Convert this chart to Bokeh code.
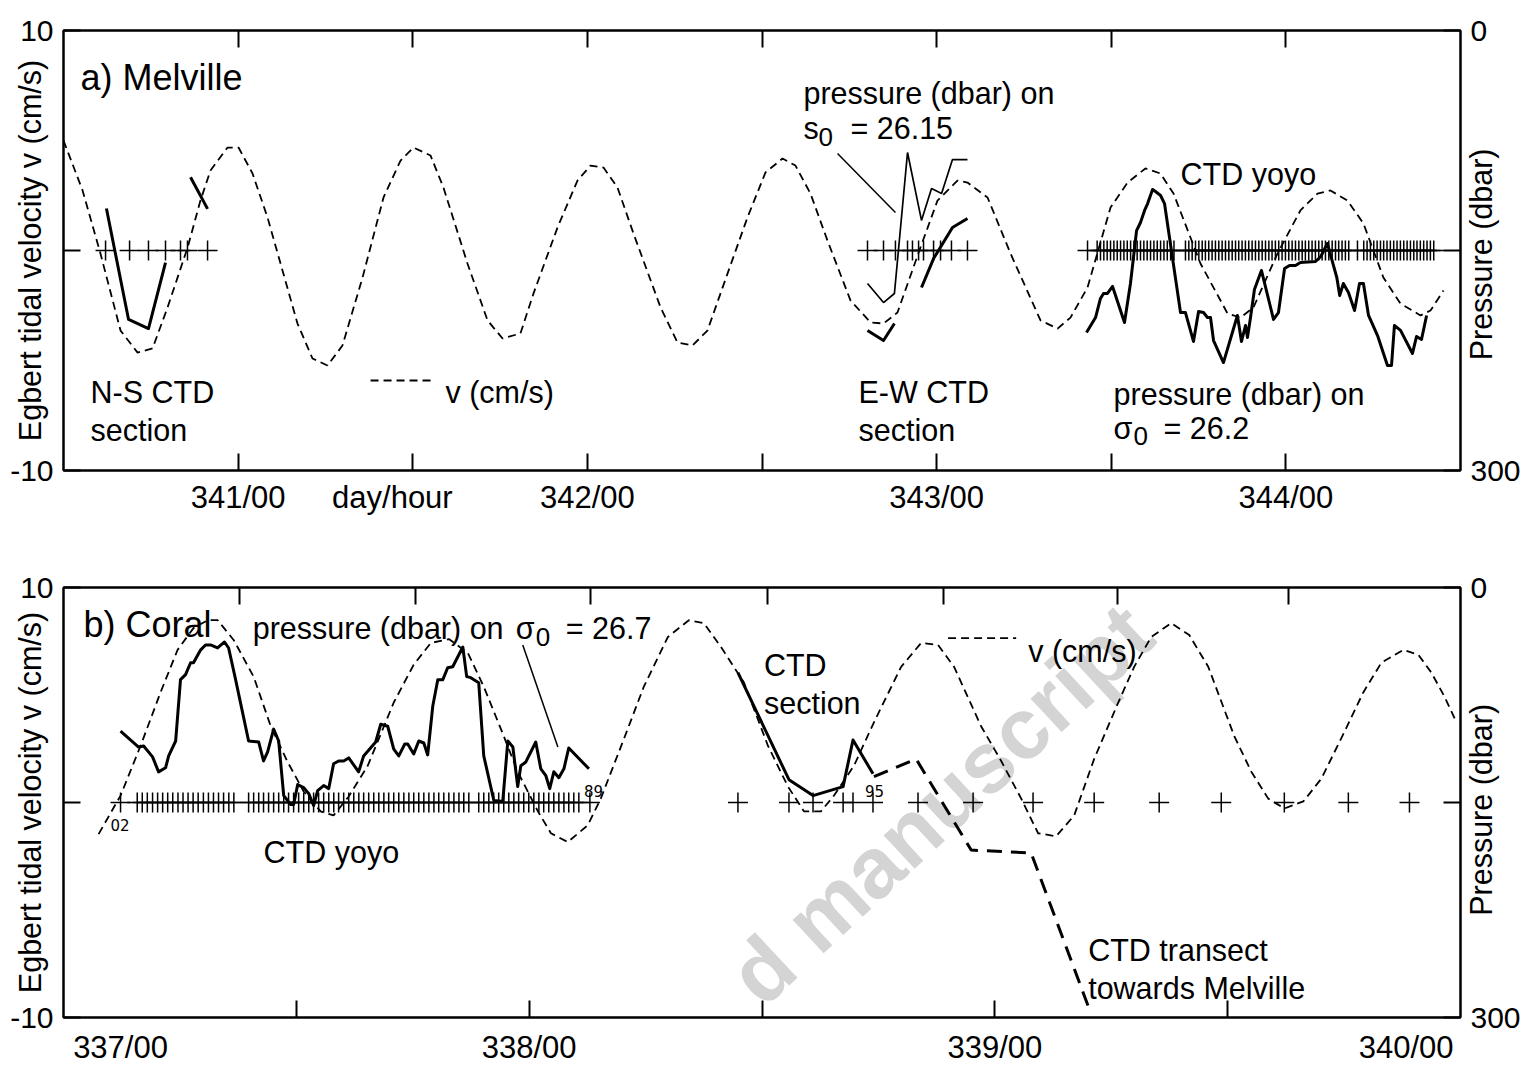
import math
from bokeh.plotting import figure
from bokeh.models import Range1d, LinearAxis, FixedTicker, Label, Arrow
from bokeh.layouts import column
from bokeh.embed import file_html
from bokeh.resources import INLINE

FONT = "Liberation Sans"

# ---------------- data: panel a) Melville (x = hours since day 340/00) ----------------
v_top_h = [12.00, 13.31, 14.54, 15.92, 17.09, 18.12, 19.15, 20.53, 21.41, 22.10,
           23.27, 24.03, 24.99, 26.02, 28.08, 29.11, 30.14, 31.17, 32.55, 33.99,
           35.16, 36.05, 37.22, 38.11, 39.76, 41.14, 42.17, 43.40, 44.30, 45.95,
           47.32, 48.21, 49.11, 50.07, 51.17, 53.03, 54.19, 55.22, 56.25, 57.63,
           59.00, 60.24, 61.41, 62.30, 63.33, 64.50, 66.08, 67.46, 68.35, 69.31,
           70.89, 72.06, 73.43, 74.12, 75.50, 77.08, 79.14, 80.31, 81.20, 82.37,
           83.95, 85.12, 86.35, 87.38, 88.28, 90.13, 91.99, 92.88, 93.77, 95.42,
           97.00, 98.17, 99.06, 100.23, 101.33, 102.70, 103.87, 105.25, 105.94, 106.83]
v_top = [5.00, 2.73, -0.14, -3.64, -4.64, -4.45, -2.59, 0.14, 2.27, 3.64,
         4.68, 4.68, 3.50, 1.50, -3.32, -4.91, -5.23, -4.32, -1.23, 2.41,
         4.09, 4.68, 4.32, 2.86, -0.59, -3.18, -4.00, -3.77, -1.95, 1.05,
         3.18, 3.86, 3.77, 2.86, 0.77, -2.59, -4.18, -4.32, -3.64, -1.05,
         1.50, 3.55, 4.18, 3.86, 2.59, 0.45, -2.27, -3.27, -3.32, -2.82,
         0.14, 2.27, 3.18, 3.09, 2.41, -0.14, -3.18, -3.55, -3.05, -1.68,
         1.95, 3.09, 3.73, 3.50, 2.59, -0.59, -2.86, -3.05, -2.59, -0.14,
         1.82, 2.59, 2.73, 2.27, 1.23, -1.23, -2.41, -2.95, -2.73, -1.82]

ns_h1 = [14.95, 16.47, 17.84, 19.01]
ns_p1 = [121.4, 197.0, 203.2, 158.2]
ns_h2 = [20.73, 21.90]
ns_p2 = [100.0, 121.6]

ew_thin_h = [67.25, 68.35, 69.10, 70.00, 70.96, 71.65, 72.34, 73.09, 74.12]
ew_thin_p = [172.5, 185.5, 179.3, 83.2, 129.5, 107.7, 111.1, 88.0, 88.0]
ew_thick_h1 = [67.25, 68.35, 69.10]
ew_thick_p1 = [204.5, 211.4, 199.8]
ew_thick_h2 = [70.96, 71.79, 73.09, 74.12]
ew_thick_p2 = [175.2, 155.5, 134.3, 128.2]

yoyo_a_h = [82.30, 82.92, 83.26, 83.47, 83.74, 84.09, 84.91, 85.32, 85.74, 86.01,
            86.29, 86.50, 86.84, 87.04, 87.39, 87.66, 88.76, 89.10, 89.65, 90.00,
            90.34, 90.61, 90.82, 91.03, 91.71, 92.67, 92.95, 93.23, 93.36, 93.57,
            93.84, 94.32, 95.15, 95.49, 95.91, 96.25, 96.66, 97.00, 98.04, 98.40,
            98.85, 99.25, 99.50, 99.70, 99.95, 100.30, 100.72, 101.06, 101.33, 101.68,
            102.30, 102.98, 103.26, 103.46, 103.88, 104.70, 104.98, 105.32, 105.67]
yoyo_a_p = [205.9, 195.7, 182.7, 179.3, 179.3, 174.5, 199.1, 172.5, 136.4, 130.9,
            122.7, 118.0, 108.4, 109.8, 112.5, 118.0, 192.3, 192.3, 212.0, 191.6,
            192.3, 195.7, 195.7, 211.4, 226.4, 194.3, 212.0, 201.1, 209.3, 195.7,
            176.6, 163.6, 197.0, 192.3, 162.3, 160.2, 160.2, 158.2, 157.5, 154.1,
            145.2, 159.5, 168.4, 180.7, 172.5, 178.6, 190.9, 172.5, 172.5, 194.3,
            208.0, 228.4, 228.4, 201.1, 204.5, 220.2, 208.6, 210.7, 194.3]

ns_stations = [14.89, 16.54, 17.84, 19.01, 20.04, 20.52, 21.90]
ew_stations = [67.25, 68.35, 69.17, 70.00, 70.34, 70.76, 71.10, 71.79, 72.27, 73.02, 74.12]
yoyo_a_stations = [82.37, 83.03, 83.26, 83.49, 83.72, 83.95, 84.18, 84.41, 84.64, 84.87,
                   85.10, 85.33, 85.56, 85.78, 86.01, 86.24, 86.47, 86.70, 86.93, 87.16,
                   87.39, 87.62, 87.85, 88.08, 88.31, 89.10, 89.33, 89.56, 89.79, 90.02,
                   90.25, 90.47, 90.70, 90.93, 91.16, 91.39, 91.62, 91.85, 92.08, 92.31,
                   92.54, 92.76, 92.99, 93.22, 93.45, 93.68, 93.91, 94.14, 94.37, 94.60,
                   94.83, 95.05, 95.28, 95.51, 95.74, 95.97, 96.20, 96.43, 96.66, 96.89,
                   97.12, 97.34, 97.57, 97.80, 98.03, 98.26, 98.49, 98.72, 98.95, 99.18,
                   99.41, 99.63, 99.86, 100.09, 100.32, 100.92, 101.35, 101.58, 101.81, 102.04,
                   102.27, 102.50, 102.72, 102.95, 103.18, 103.41, 103.64, 103.87, 104.10, 104.33,
                   104.56, 104.79, 105.01, 105.24, 105.47, 105.70, 105.93, 106.16]

top_ticks = [24, 36, 48, 60, 72, 84, 96]
top_tick_labels = {24: "341/00", 34.6: "day/hour", 48: "342/00", 72: "343/00", 96: "344/00"}

# ---------------- data: panel b) Coral (x = hours since day 337/00) ----------------
v_bot_h = [1.81, 2.94, 3.97, 5.00, 5.88, 6.70, 7.43, 7.94, 8.77, 9.80,
           10.68, 11.55, 12.38, 13.25, 13.92, 14.70, 15.68, 17.02, 18.05, 18.93,
           19.86, 20.84, 21.66, 22.69, 23.41, 24.45, 25.12, 25.99, 27.02, 27.69,
           28.88, 29.91, 31.15, 32.23, 33.01, 33.88, 35.07, 36.31, 37.34, 38.16,
           39.04, 39.71, 40.74, 41.77, 43.17, 44.20, 45.07, 45.90, 47.29, 48.32,
           49.36, 50.23, 51.16, 52.09, 53.12, 54.36, 55.18, 56.06, 57.09, 58.02,
           59.00, 60.34, 61.22, 62.09, 62.92, 63.90, 64.83, 66.01, 66.99, 67.92,
           69.06, 69.83, 70.50, 71.17, 71.79]
v_bot = [-1.47, 0.32, 2.63, 5.12, 7.10, 8.11, 8.48, 8.48, 7.56, 5.85,
         3.55, 1.89, 0.51, -0.41, -0.60, 0.28, 1.71, 4.65, 6.41, 7.42,
         7.60, 6.96, 5.39, 3.09, 1.43, -0.41, -1.43, -1.84, -1.06, 0.18,
         2.95, 5.39, 7.70, 8.48, 8.34, 7.24, 5.58, 2.63, 0.74, -0.41,
         -0.41, 0.32, 1.71, 3.73, 6.31, 7.42, 7.33, 6.31, 3.55, 1.94,
         0.18, -1.43, -1.57, -0.60, 2.03, 4.65, 6.31, 7.70, 8.34, 7.79,
         6.31, 3.09, 1.43, 0.18, -0.28, 0.05, 1.11, 3.27, 5.12, 6.50,
         7.10, 6.87, 6.04, 4.93, 3.73]

yoyo_b_h = [2.94, 3.87, 4.13, 4.59, 4.90, 5.26, 5.42, 5.78, 6.03, 6.29,
            6.55, 6.70, 7.07, 7.32, 7.58, 7.94, 8.30, 8.51, 8.87, 9.54,
            10.06, 10.31, 10.52, 10.83, 11.09, 11.35, 11.71, 11.86, 12.07, 12.38,
            12.64, 12.89, 13.10, 13.41, 13.67, 13.92, 14.18, 14.44, 14.70, 15.21,
            15.47, 15.78, 16.09, 16.35, 16.71, 17.02, 17.28, 17.59, 17.74, 18.05,
            18.31, 18.57, 18.77, 19.03, 19.29, 19.55, 19.80, 20.06, 20.58, 20.78,
            20.99, 21.40, 21.66, 22.18, 22.64, 22.90, 23.16, 23.41, 23.57, 23.83,
            24.34, 24.60, 24.86, 25.06, 25.27, 25.53, 25.79, 26.04, 27.08]
yoyo_b_p = [100.2, 111.3, 110.6, 118.2, 128.6, 125.8, 117.5, 107.1, 64.3, 60.8,
            52.5, 52.5, 43.5, 40.1, 40.1, 42.2, 38.0, 42.2, 64.3, 107.1,
            107.8, 121.0, 114.7, 98.8, 107.1, 145.2, 151.4, 151.4, 137.5, 139.6,
            143.8, 152.1, 141.7, 138.2, 140.3, 123.0, 121.0, 121.0, 118.9, 128.6,
            117.5, 112.7, 107.8, 95.4, 96.8, 112.7, 117.5, 109.2, 109.2, 116.1,
            107.1, 108.5, 116.8, 82.9, 64.3, 64.3, 56.0, 55.3, 41.5, 62.2,
            62.9, 66.4, 117.5, 148.6, 149.3, 107.1, 111.3, 138.9, 124.4, 121.7,
            107.8, 126.5, 131.3, 140.3, 128.6, 132.7, 126.5, 112.0, 126.5]

sec_b_h = [34.76, 37.39, 38.63, 40.18, 40.69, 41.72]
sec_b_p = [59.4, 134.1, 145.2, 138.9, 106.4, 129.9]
transect_h = [41.77, 43.94, 46.78, 49.87, 52.86]
transect_p = [132.0, 119.6, 183.2, 185.2, 293.8]

yoyo_b_stations = [2.94, 3.80, 4.06, 4.32, 4.59, 4.85, 5.11, 5.37, 5.63, 5.90,
                   6.16, 6.42, 6.68, 6.94, 7.21, 7.47, 7.73, 7.99, 8.25, 8.52,
                   8.78, 9.54, 9.80, 10.06, 10.31, 10.57, 10.83, 11.09, 11.35, 11.60,
                   11.86, 12.12, 12.38, 12.64, 12.89, 13.15, 13.41, 13.67, 13.93, 14.18,
                   14.44, 14.70, 14.96, 15.22, 15.47, 15.73, 15.99, 16.25, 16.51, 16.76,
                   17.02, 17.28, 17.54, 17.80, 18.05, 18.31, 18.57, 18.83, 19.09, 19.34,
                   19.60, 19.86, 20.12, 20.38, 20.63, 20.89, 21.40, 21.66, 21.92, 22.17,
                   22.43, 22.69, 22.95, 23.21, 23.46, 23.72, 23.98, 24.24, 24.50, 24.75,
                   25.01, 25.27, 25.53, 25.79, 26.04, 26.30, 26.56, 27.13]
sec_b_stations = [34.76, 37.39, 38.63, 40.18, 40.69, 41.72]
transect_stations = [44.04, 46.88, 49.97, 53.12, 56.47, 59.67, 62.92, 66.22, 69.37]

bot_ticks = [12, 24, 36, 48, 60]
bot_top_ticks = [9.08, 18.15, 27.18, 36.26, 45.38, 54.30, 63.13]
bot_tick_labels = {2.94: "337/00", 24: "338/00", 48: "339/00", 69.2: "340/00"}

LEFT_TITLE = "Egbert tidal velocity v (cm/s)"
RIGHT_TITLE = "Pressure (dbar)"
NBSP = "\u00a0"


# ---------------- helpers ----------------
def style_axis(ax, size="30px"):
    ax.axis_line_width = 2
    ax.axis_line_color = "black"
    ax.major_tick_line_width = 2
    ax.major_tick_line_color = "black"
    ax.major_tick_in = 17
    ax.major_tick_out = 0
    ax.minor_tick_line_color = None
    ax.major_label_text_font = FONT
    ax.major_label_text_font_size = size
    ax.major_label_text_color = "black"
    ax.axis_label_text_font = FONT
    ax.axis_label_text_font_size = "30.5px"
    ax.axis_label_text_font_style = "normal"
    ax.axis_label_text_color = "black"


def set_right_title(ax, pad):
    props = LinearAxis.properties()
    ok = False
    if "axis_label_align" in props:
        try:
            ax.axis_label_align = "end"
            ok = True
        except Exception:
            ok = False
    ax.axis_label = (NBSP * pad + RIGHT_TITLE) if ok else RIGHT_TITLE
    ax.axis_label_standoff = -43
    if "axis_label_orientation" in props:
        try:
            ax.axis_label_orientation = math.pi / 2
        except Exception:
            pass


def make_fig(x0, x1, height, btop, bbot, ticks_below, ticks_above, label_map, label_standoff,
             title_pad):
    p = figure(width=1530, height=height, x_range=Range1d(x0, x1), y_range=Range1d(-10, 10),
               x_axis_type=None, y_axis_type=None, output_backend="svg", toolbar_location=None,
               min_border_left=63, min_border_right=70, min_border_top=btop, min_border_bottom=bbot)
    p.extra_y_ranges = {"p": Range1d(300, 0)}
    p.outline_line_color = "black"
    p.outline_line_width = 2
    p.outline_line_alpha = 1.0
    p.background_fill_color = "white"
    p.border_fill_color = "white"

    left = LinearAxis(ticker=FixedTicker(ticks=[-10, 0, 10]),
                      major_label_overrides={-10: "-10", 0: "", 10: "10"})
    style_axis(left)
    left.major_label_standoff = 10
    left.axis_label = LEFT_TITLE
    left.axis_label_standoff = -40
    p.add_layout(left, "left")

    right = LinearAxis(y_range_name="p", ticker=FixedTicker(ticks=[0, 150, 300]),
                       major_label_overrides={0: "0", 150: "", 300: "300"})
    style_axis(right)
    right.major_label_standoff = 10
    set_right_title(right, title_pad)
    p.add_layout(right, "right")

    below = LinearAxis(ticker=FixedTicker(ticks=ticks_below))
    style_axis(below, "0px")
    below.major_label_standoff = 0
    below.major_label_overrides = {t: "" for t in ticks_below}
    p.add_layout(below, "below")

    labels = LinearAxis(ticker=FixedTicker(ticks=list(label_map.keys())),
                        major_label_overrides=label_map)
    style_axis(labels, "31px")
    labels.axis_line_color = None
    labels.major_tick_line_color = None
    labels.major_tick_in = 0
    labels.major_label_standoff = label_standoff
    p.add_layout(labels, "below")

    above = LinearAxis(ticker=FixedTicker(ticks=ticks_above))
    style_axis(above, "0px")
    above.major_label_standoff = 0
    above.major_label_overrides = {t: "" for t in ticks_above}
    p.add_layout(above, "above")
    return p


def txt(p, x, y, s, size=30.5, align="left", baseline="alphabetic", angle=0.0, font=FONT,
        color="black", style="normal", level="annotation"):
    p.add_layout(Label(x=x, y=y, text=s, text_font=font, text_font_size=f"{size}px",
                       text_align=align, text_baseline=baseline, angle=angle,
                       text_color=color, text_font_style=style, level=level))


def seg(p, x0, y0, x1, y1, width=1.5, dash="solid"):
    p.add_layout(Arrow(end=None, x_start=x0, y_start=y0, x_end=x1, y_end=y1,
                       line_width=width, line_color="black", line_dash=dash))


DASH = "8 5"

# ---------------- panel a ----------------
p1 = make_fig(12, 108, 540, 30, 70, top_ticks, top_ticks, top_tick_labels, 9, 13)

p1.line(v_top_h, v_top, line_color="black", line_width=1.8, line_dash=DASH)
for hh, pp in [(ns_h1, ns_p1), (ns_h2, ns_p2), (ew_thick_h1, ew_thick_p1),
               (ew_thick_h2, ew_thick_p2), (yoyo_a_h, yoyo_a_p)]:
    p1.line(hh, pp, y_range_name="p", line_color="black", line_width=3, line_join="round")
p1.line(ew_thin_h, ew_thin_p, y_range_name="p", line_color="black", line_width=1.7)
for st in (ns_stations, ew_stations, yoyo_a_stations):
    p1.scatter(st, [0] * len(st), marker="cross", size=20, line_color="black", line_width=1.5)

txt(p1, 13.17, 7.86, "a) Melville", 36)
txt(p1, 13.86, -6.45, "N-S CTD")
txt(p1, 13.86, -8.15, "section")
seg(p1, 33.10, -5.91, 37.43, -5.91, 1.8, DASH)
txt(p1, 38.25, -6.45, "v (cm/s)")
txt(p1, 62.85, 7.14, "pressure (dbar) on")
txt(p1, 62.85, 5.55, "s")
txt(p1, 63.88, 5.15, "0", 26)
txt(p1, 66.08, 5.55, "= 26.15")
seg(p1, 65.19, 4.41, 69.17, 1.73, 1.5)
txt(p1, 66.63, -6.45, "E-W CTD")
txt(p1, 66.63, -8.15, "section")
txt(p1, 88.76, 3.48, "CTD yoyo")
txt(p1, 84.16, -6.52, "pressure (dbar) on")
txt(p1, 84.16, -8.09, "σ")
txt(p1, 85.53, -8.45, "0", 26)
txt(p1, 87.59, -8.09, "= 26.2")

# ---------------- panel b ----------------
p2 = make_fig(0, 72, 527, 47, 46, bot_ticks, bot_top_ticks, bot_tick_labels, 12, 12)

txt(p2, 45.2, -0.05, "d manuscript", 86, "center", "middle", 0.749, FONT,
    "#d4d4d4", "bold", "underlay")

p2.line(v_bot_h, v_bot, line_color="black", line_width=1.8, line_dash=DASH)
p2.line(yoyo_b_h, yoyo_b_p, y_range_name="p", line_color="black", line_width=3, line_join="round")
p2.line(sec_b_h, sec_b_p, y_range_name="p", line_color="black", line_width=3, line_join="round")
p2.line(transect_h, transect_p, y_range_name="p", line_color="black", line_width=3, line_dash="15 9")
for st in (yoyo_b_stations, sec_b_stations, transect_stations):
    p2.scatter(st, [0] * len(st), marker="cross", size=20, line_color="black", line_width=1.5)

txt(p2, 1.03, 8.29, "b) Coral", 36)
txt(p2, 9.75, 8.11, "pressure (dbar) on")
txt(p2, 23.31, 8.11, "σ")
txt(p2, 24.34, 7.70, "0", 26)
txt(p2, 25.89, 8.11, "= 26.7")
seg(p2, 23.67, 7.33, 25.48, 2.58, 1.5)
txt(p2, 10.31, -2.30, "CTD yoyo")
txt(p2, 36.10, 6.41, "CTD")
txt(p2, 36.10, 4.65, "section")
seg(p2, 45.59, 7.65, 49.10, 7.65, 1.8, DASH)
txt(p2, 49.72, 7.05, "v (cm/s)")
txt(p2, 52.81, -6.87, "CTD transect")
txt(p2, 52.81, -8.62, "towards Melville")
txt(p2, 2.42, -1.06, "02", 15, font="DejaVu Sans")
txt(p2, 26.82, 0.55, "89", 15, font="DejaVu Sans")
txt(p2, 41.31, 0.55, "95", 15, font="DejaVu Sans")

layout = column(p1, p2, spacing=0)
open("out.html", "w").write(file_html(layout, INLINE))
